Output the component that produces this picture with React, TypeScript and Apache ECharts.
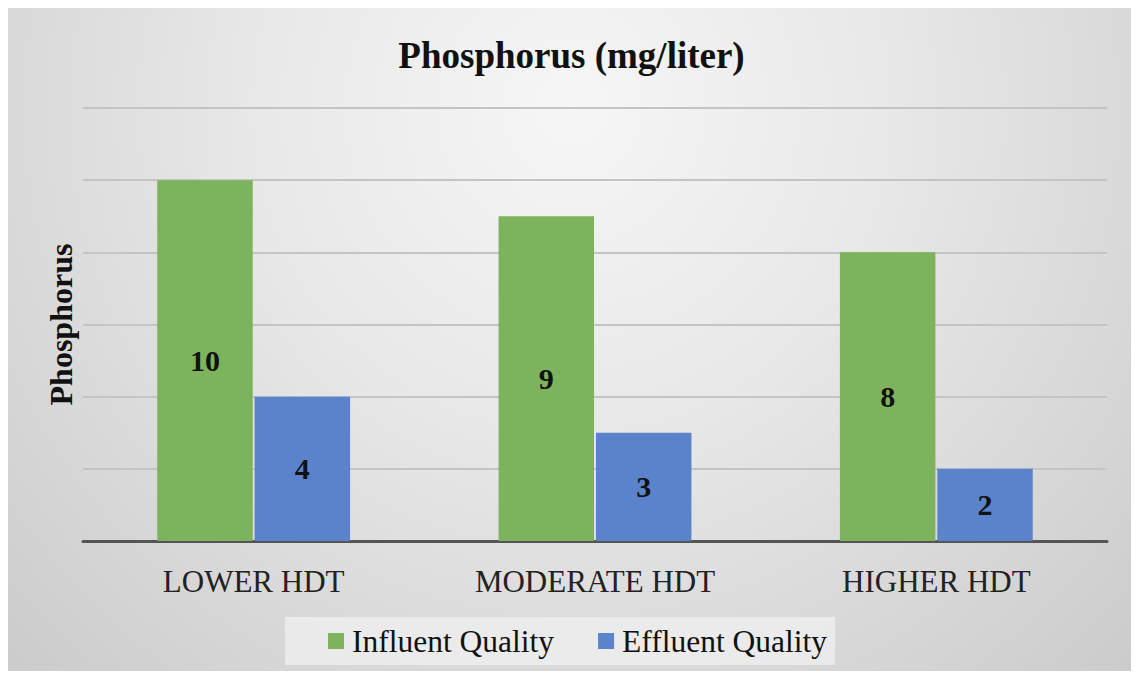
import React, { useEffect, useRef } from "react";
import * as echarts from "echarts";

const categories = ["LOWER HDT", "MODERATE HDT", "HIGHER HDT"];
const influent = [10, 9, 8];
const effluent = [4, 3, 2];
const seriesNames = ["Influent Quality", "Effluent Quality"];
const titleText = "Phosphorus (mg/liter)";
const yAxisName = "Phosphorus";

const SERIF = "'Liberation Serif', 'Times New Roman', serif";

export default function App() {
  const ref = useRef<HTMLDivElement>(null);
  useEffect(() => {
    if (!ref.current) return;
    const chart = echarts.init(ref.current, undefined, { renderer: "svg" });
    const label = {
      show: true,
      position: "inside",
      fontFamily: SERIF,
      fontSize: 30,
      fontWeight: "bold",
      color: "#111",
    };
    chart.setOption({
      animation: false,
      backgroundColor: "transparent",
      title: {
        text: titleText,
        left: "center",
        top: 24,
        textStyle: { fontFamily: SERIF, fontSize: 37, fontWeight: "bold", color: "#111" },
      },
      grid: { left: 75, right: 28, top: 100, bottom: 137 },
      legend: {
        data: seriesNames,
        left: 277,
        top: 609,
        padding: [8, 8, 8, 43],
        backgroundColor: "rgba(236,236,236,0.9)",
        itemWidth: 16,
        itemHeight: 16,
        itemGap: 44,
        icon: "rect",
        textStyle: { fontFamily: SERIF, fontSize: 31.5, color: "#111", padding: [0, 0, 0, 3] },
      },
      xAxis: {
        type: "category",
        data: categories,
        axisLine: { lineStyle: { color: "#555", width: 3 } },
        axisTick: { show: false },
        axisLabel: { fontFamily: SERIF, fontSize: 31, color: "#222", margin: 25 },
      },
      yAxis: {
        type: "value",
        min: 0,
        max: 12,
        interval: 2,
        name: yAxisName,
        nameLocation: "middle",
        nameGap: 6,
        nameTextStyle: { fontFamily: SERIF, fontSize: 32, fontWeight: "bold", color: "#111" },
        axisLabel: { show: false },
        axisLine: { show: false },
        axisTick: { show: false },
        splitLine: { lineStyle: { color: "#c4c4c4", width: 2 } },
      },
      series: [
        {
          name: seriesNames[0],
          type: "bar",
          data: influent,
          barGap: "2%",
          barCategoryGap: "43.5%",
          itemStyle: { color: "#7db35c" },
          label,
        },
        {
          name: seriesNames[1],
          type: "bar",
          data: effluent,
          itemStyle: { color: "#5b83cb" },
          label,
        },
      ],
    });
    return () => chart.dispose();
  }, []);
  return (
    <div style={{ height: 663 }}>
      <div
        ref={ref}
        style={{
          width: 1127,
          height: 670,
          background:
            "radial-gradient(ellipse farthest-corner at 50% 15%, #f6f6f6 0%, #e8e8e8 40%, #cbcbcb 100%)",
        }}
      />
    </div>
  );
}
